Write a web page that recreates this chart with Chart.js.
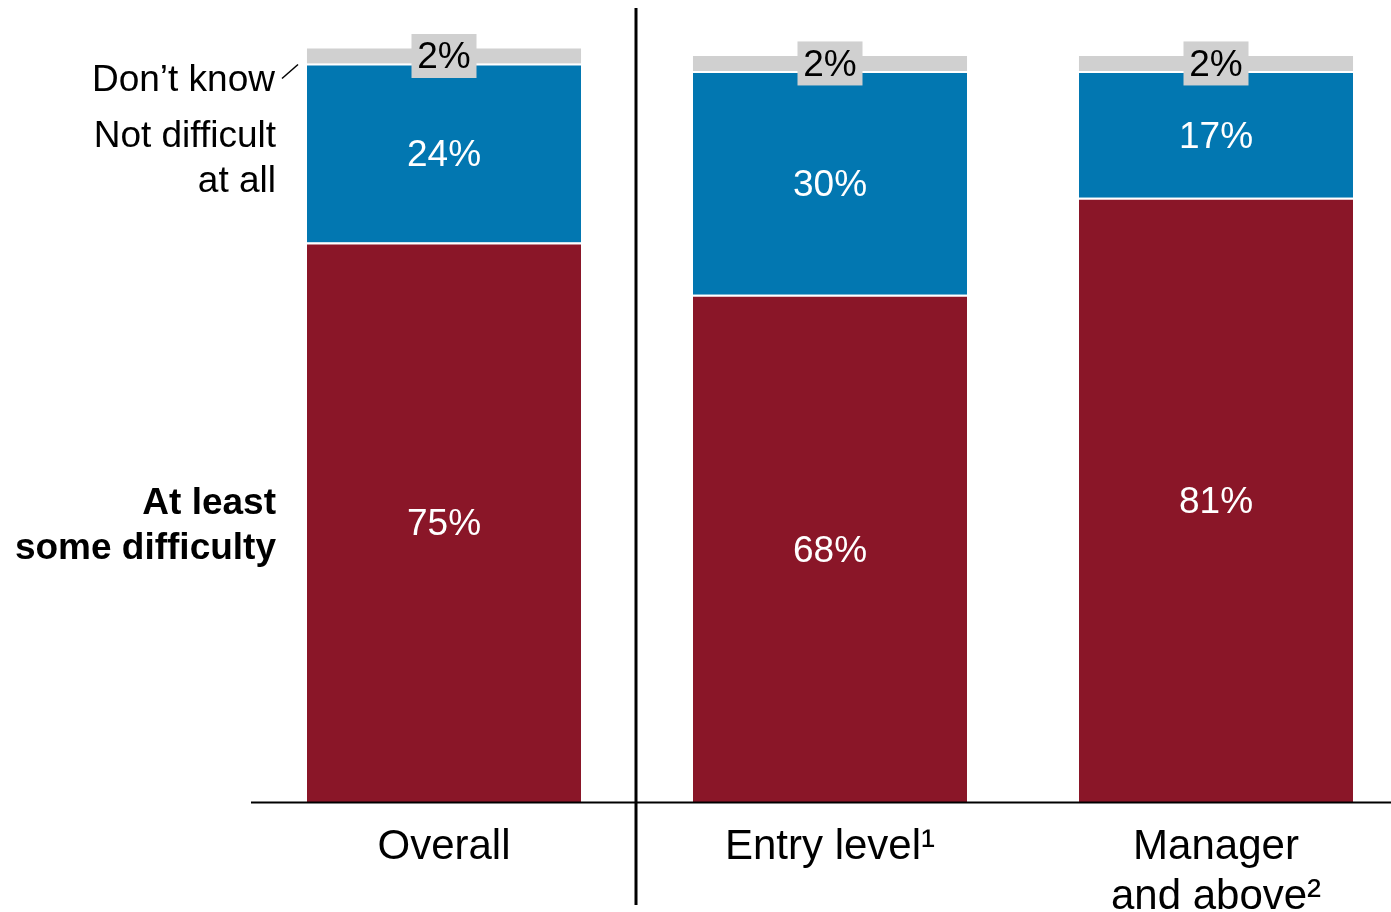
<!DOCTYPE html>
<html>
<head>
<meta charset="utf-8">
<script src="https://cdn.jsdelivr.net/npm/chart.js@4/dist/chart.umd.min.js"></script>
<style>
  html, body { margin: 0; padding: 0; background: #fff; overflow: hidden; width: 1391px; height: 912px; }
  canvas { display: block; }
</style>
</head>
<body>
<canvas id="c" width="1409" height="912" style="width:1409px;height:912px"></canvas>
<script>
const categories = ["Overall", "Entry level\u00B9", ["Manager", "and above\u00B2"]];
const seriesNames = ["At least some difficulty", "Not difficult at all", "Don\u2019t know"];
const leftLabels = [["At least", "some difficulty"], ["Not difficult", "at all"], ["Don\u2019t know"]];
const atLeastSome = [75, 68, 81];
const notDifficult = [24, 30, 17];
const dontKnow = [2, 2, 2];

const RED = '#8A1628', BLUE = '#0277B1', GREY = '#D0D0D0';
const FONT = "'Liberation Sans', Arial, Helvetica, sans-serif";

const labelPlugin = {
  id: 'labelPlugin',
  afterDraw(chart) {
    const ctx = chart.ctx;
    const xs = chart.scales.x;
    const area = chart.chartArea;
    ctx.save();
    // value labels
    chart.data.datasets.forEach((ds, di) => {
      const meta = chart.getDatasetMeta(di);
      meta.data.forEach((el, i) => {
        const p = el.getCenterPoint();
        const txt = ds.data[i] + '%';
        ctx.font = '37px ' + FONT;
        ctx.textAlign = 'center';
        ctx.textBaseline = 'middle';
        if (di === 2) {
          ctx.fillStyle = GREY;
          ctx.fillRect(p.x - 32.5, p.y - 22, 65, 44);
          ctx.fillStyle = '#000';
          ctx.fillText(txt, p.x, p.y + 2);
        } else {
          ctx.fillStyle = '#fff';
          ctx.fillText(txt, p.x, p.y + 3);
        }
      });
    });
    // left labels, aligned to first bar segments
    const rx = 276;
    ctx.textAlign = 'right';
    ctx.textBaseline = 'middle';
    ctx.fillStyle = '#000';
    const lh = 45;
    [0, 1].forEach(di => {
      const el = chart.getDatasetMeta(di).data[0];
      const cy = el.getCenterPoint().y + (di === 0 ? 4 : 6);
      const lines = leftLabels[di];
      ctx.font = (di === 0 ? 'bold ' : '') + '37px ' + FONT;
      lines.forEach((ln, k) => {
        ctx.fillText(ln, rx, cy + (k - (lines.length - 1) / 2) * lh);
      });
    });
    const dy = chart.getDatasetMeta(1).data[0].y + 17;
    ctx.font = '37px ' + FONT;
    ctx.fillText(leftLabels[2][0], 275, dy);
    ctx.strokeStyle = '#000';
    ctx.lineWidth = 1.5;
    ctx.beginPath();
    ctx.moveTo(282, dy - 2);
    ctx.lineTo(298, dy - 16);
    ctx.stroke();
    // baseline
    ctx.fillStyle = '#000';
    ctx.fillRect(251, area.bottom - 0.5, 1391 - 251, 2);
    // divider between first and second category
    const divX = (xs.getPixelForValue(0) + xs.getPixelForValue(1)) / 2 - 1;
    ctx.fillRect(divX - 1.5, 8, 3, 897);
    ctx.restore();
  }
};

new Chart(document.getElementById('c'), {
  type: 'bar',
  data: {
    labels: categories,
    datasets: [
      { label: seriesNames[0], data: atLeastSome, backgroundColor: RED, borderColor: '#fff',
        borderWidth: { top: 2, left: 0, right: 0, bottom: 0 }, borderSkipped: false },
      { label: seriesNames[1], data: notDifficult, backgroundColor: BLUE, borderColor: '#fff',
        borderWidth: { top: 2, left: 0, right: 0, bottom: 0 }, borderSkipped: false },
      { label: seriesNames[2], data: dontKnow, backgroundColor: GREY, borderWidth: 0 }
    ]
  },
  options: {
    responsive: false,
    animation: false,
    devicePixelRatio: 1,
    layout: { padding: { left: 251, right: 0, top: 56, bottom: 0 } },
    datasets: { bar: { categoryPercentage: 1, barPercentage: 0.71 } },
    plugins: { legend: { display: false }, tooltip: { enabled: false } },
    scales: {
      x: {
        stacked: true,
        grid: { display: false, drawTicks: false },
        border: { display: false },
        ticks: { color: '#000', padding: 20, maxRotation: 0, autoSkip: false,
          font: { family: FONT, size: 42, lineHeight: 1.19 } },
        afterFit(scale) { scale.height = 110; }
      },
      y: {
        stacked: true, display: false, min: 0, max: 100
      }
    },
    clip: false
  },
  plugins: [labelPlugin]
});
</script>
</body>
</html>
